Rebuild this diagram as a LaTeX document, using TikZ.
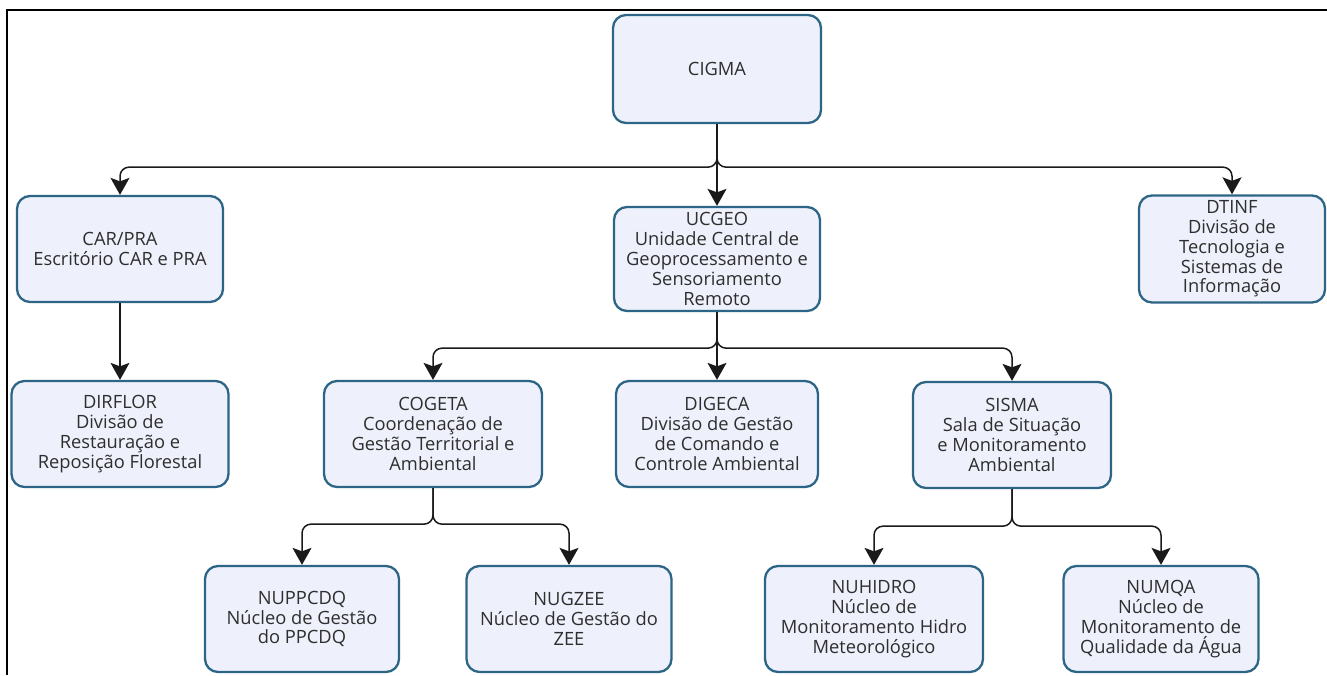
\documentclass[tikz,border=0pt]{standalone}
\usepackage{fontspec}
\setmainfont{Open Sans}
\usetikzlibrary{arrows.meta,positioning}
\definecolor{unitline}{HTML}{2C6586}
\definecolor{unitfill}{HTML}{EEF1FB}
\definecolor{unittext}{HTML}{2E2E2E}
\definecolor{linkline}{HTML}{1A1A1A}
\tikzset{
	unit/.style={draw=unitline, line width=2.3pt, fill=unitfill, rounded corners=13pt,
		text=unittext, align=center, inner sep=2pt, minimum height=106pt,
		font=\fontsize{18.3}{19.8}\selectfont},
	link/.style={draw=linkline, line width=1.5pt, rounded corners=9pt,
		-{Stealth[length=17pt,width=19pt,inset=3.5pt]}}
}

\begin{document}
\begin{tikzpicture}[x=1pt,y=-1pt]
		\useasboundingbox (0,0) rectangle (1327,675);
		\draw[line width=1.6pt] (7,675) -- (7,10) -- (1327,10);

		\node[unit,minimum width=208pt,minimum height=108pt] (cigma) at (717,69) {CIGMA};

		% first level
		\node[unit,minimum width=206pt] (car) at (120,249) {CAR/PRA\\Escritório CAR e PRA};
		\node[unit,minimum width=206pt,minimum height=104pt] (ucgeo) at (717,259) {UCGEO\\Unidade Central de\\Geoprocessamento e\\Sensoriamento\\Remoto};
		\node[unit,minimum width=186pt,minimum height=107pt] (dtinf) at (1232,249) {DTINF\\Divisão de\\Tecnologia e\\Sistemas de\\Informação};
		\draw[link] (cigma.south) -- ++(0,43) -| (car.north);
		\draw[link] (cigma.south) -- ++(0,43) -| (dtinf.north);
		\draw[link] (cigma.south) -- (ucgeo.north);

		% second level
		\node[unit,minimum width=217pt] (dirflor) at (120,434) {DIRFLOR\\Divisão de\\Restauração e\\Reposição Florestal};
		\node[unit,minimum width=218pt] (cogeta) at (433,434) {COGETA\\Coordenação de\\Gestão Territorial e\\Ambiental};
		\node[unit,minimum width=202pt] (digeca) at (717,434) {DIGECA\\Divisão de Gestão\\de Comando e\\Controle Ambiental};
		\node[unit,minimum width=198pt] (sisma) at (1012,435) {SISMA\\Sala de Situação\\e Monitoramento\\Ambiental};
		\draw[link] (car.south) -- (dirflor.north);
		\draw[link] (ucgeo.south) -- ++(0,36) -| (cogeta.north);
		\draw[link] (ucgeo.south) -- ++(0,36) -| (sisma.north);
		\draw[link] (ucgeo.south) -- (digeca.north);

		% third level
		\node[unit,minimum width=194pt] (nuppcdq) at (302,619) {NUPPCDQ\\Núcleo de Gestão\\do PPCDQ};
		\node[unit,minimum width=205pt] (nugzee) at (569,619) {NUGZEE\\Núcleo de Gestão do\\ZEE};
		\node[unit,minimum width=218pt] (nuhidro) at (874,619) {NUHIDRO\\Núcleo de\\Monitoramento Hidro\\Meteorológico};
		\node[unit,minimum width=195pt] (numqa) at (1161,619) {NUMQA\\Núcleo de\\Monitoramento de\\Qualidade da Água};
		\draw[link] (cogeta.south) -- ++(0,36) -| (nuppcdq.north);
		\draw[link] (cogeta.south) -- ++(0,36) -| (nugzee.north);
		\draw[link] (sisma.south) -- ++(0,37) -| (nuhidro.north);
		\draw[link] (sisma.south) -- ++(0,37) -| (numqa.north);
	\end{tikzpicture}
\end{document}
